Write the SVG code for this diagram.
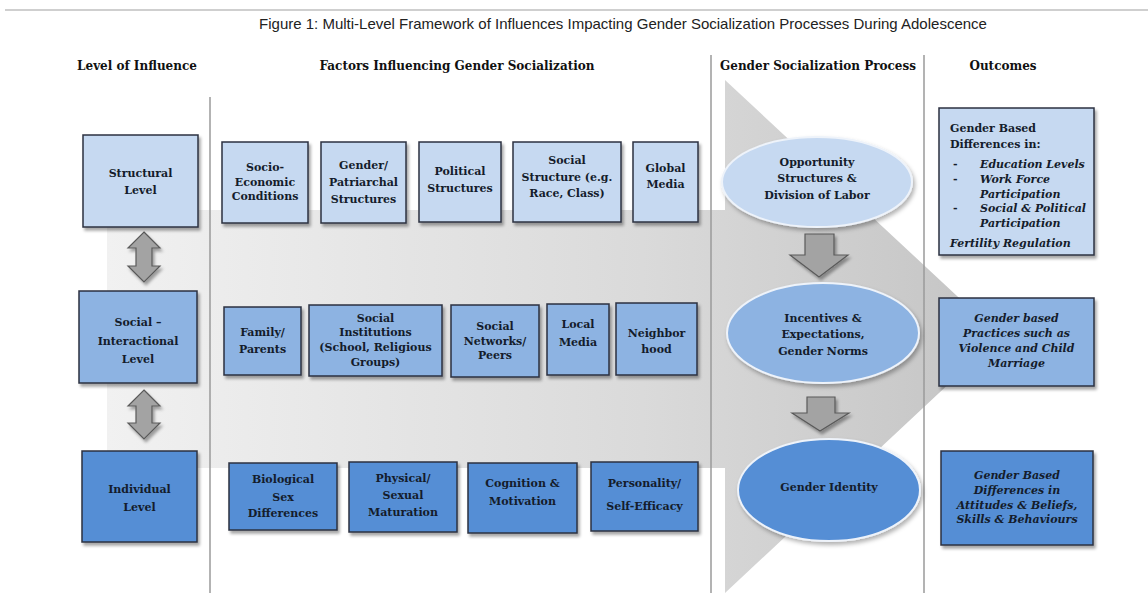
<svg xmlns="http://www.w3.org/2000/svg" width="1148" height="593" viewBox="0 0 1148 593">
<defs>
<linearGradient id="bigGrad" x1="107" y1="0" x2="1000" y2="0" gradientUnits="userSpaceOnUse">
<stop offset="0" stop-color="#f1f1f1"/>
<stop offset="0.6" stop-color="#dadada"/>
<stop offset="1" stop-color="#c4c4c4"/>
</linearGradient>
<filter id="sh" x="-10%" y="-10%" width="130%" height="130%">
<feDropShadow dx="2" dy="3" stdDeviation="1.5" flood-color="#000" flood-opacity="0.35"/>
</filter>
<filter id="shE" x="-10%" y="-10%" width="130%" height="130%">
<feDropShadow dx="2" dy="3" stdDeviation="2" flood-color="#000" flood-opacity="0.3"/>
</filter>
</defs>
<style>
.title{font-family:"Liberation Sans",Arial,sans-serif;font-size:15px;fill:#222;text-anchor:middle}
.hdr{font-family:"DejaVu Serif","Liberation Serif",serif;font-weight:bold;font-size:12px;fill:#111;text-anchor:middle}
.t{font-family:"DejaVu Serif","Liberation Serif",serif;font-weight:bold;font-size:11px;fill:#141c2b;text-anchor:middle}
.ti{font-family:"DejaVu Serif","Liberation Serif",serif;font-weight:bold;font-style:italic;font-size:11px;fill:#141c2b;text-anchor:middle}
.tl{font-family:"DejaVu Serif","Liberation Serif",serif;font-weight:bold;font-size:11px;fill:#141c2b}
.tli{font-family:"DejaVu Serif","Liberation Serif",serif;font-weight:bold;font-style:italic;font-size:11px;fill:#141c2b}
.b1{fill:#c6d9f1;stroke:#2b3140;stroke-width:1.5;filter:url(#sh)}
.b2{fill:#8db3e2;stroke:#2b3140;stroke-width:1.5;filter:url(#sh)}
.b3{fill:#558ed5;stroke:#2b3140;stroke-width:1.5;filter:url(#sh)}
.e1{fill:#c6d9f1;stroke:#eef3fa;stroke-width:2;filter:url(#shE)}
.e2{fill:#8db3e2;stroke:#eef3fa;stroke-width:2;filter:url(#shE)}
.e3{fill:#558ed5;stroke:#eef3fa;stroke-width:2;filter:url(#shE)}
.arr{fill:#a3a3a3;stroke:#5a5a5a;stroke-width:1.2;filter:url(#sh)}
.div{stroke:#9a9a9a;stroke-width:1.5;fill:none}
</style>
<rect width="1148" height="593" fill="#ffffff"/>
<line x1="5" y1="10" x2="1148" y2="10" stroke="#cfcfcf" stroke-width="2"/>
<text class="title" x="623" y="29">Figure 1: Multi-Level Framework of Influences Impacting Gender Socialization Processes During Adolescence</text>

<g id="background-arrow">
<path d="M107,210 H725 V80 L1000,336 L725,593 V468 H107 Z" fill="url(#bigGrad)"/>
</g>

<g id="dividers">
<line class="div" x1="210" y1="97" x2="210" y2="593"/>
<line class="div" x1="711" y1="55" x2="711" y2="593"/>
<line class="div" x1="924" y1="55" x2="924" y2="593"/>
</g>

<g id="headers">
<text class="hdr" x="137" y="70">Level of Influence</text>
<text class="hdr" x="457" y="70">Factors Influencing Gender Socialization</text>
<text class="hdr" x="818" y="70">Gender Socialization Process</text>
<text class="hdr" x="1003" y="70">Outcomes</text>
</g>

<g id="connectors">
<path class="arr" d="M144,232 L160,248 H152 V266 H160 L144,282 L128,266 H136 V248 H128 Z"/>
<path class="arr" d="M144,390 L160,406 H152 V423 H160 L144,439 L128,423 H136 V406 H128 Z"/>
<path class="arr" d="M805,234 H834 V255 H848 L819,277 L790,255 H805 Z"/>
<path class="arr" d="M807,397 H835 V413 H849 L820,431 L792,413 H807 Z"/>
</g>

<g id="structural-level">
<rect class="b1" x="83" y="135" width="115" height="92"/>
<text class="t" x="140.5" y="177">Structural</text>
<text class="t" x="140.5" y="194">Level</text>
</g>
<g id="social-interactional-level">
<rect class="b2" x="79" y="291" width="118" height="92"/>
<text class="t" x="138" y="326">Social –</text>
<text class="t" x="138" y="345">Interactional</text>
<text class="t" x="138" y="363">Level</text>
</g>
<g id="individual-level">
<rect class="b3" x="82" y="451" width="115" height="91"/>
<text class="t" x="139.5" y="493">Individual</text>
<text class="t" x="139.5" y="511">Level</text>
</g>

<g id="socio-economic">
<rect class="b1" x="222" y="142" width="86" height="81"/>
<text class="t" x="265" y="171">Socio-</text>
<text class="t" x="265" y="186">Economic</text>
<text class="t" x="265" y="200">Conditions</text>
</g>
<g id="gender-patriarchal">
<rect class="b1" x="321" y="142" width="85" height="81"/>
<text class="t" x="363.5" y="169">Gender/</text>
<text class="t" x="363.5" y="186">Patriarchal</text>
<text class="t" x="363.5" y="203">Structures</text>
</g>
<g id="political-structures">
<rect class="b1" x="419" y="142" width="82" height="80"/>
<text class="t" x="460" y="175">Political</text>
<text class="t" x="460" y="192">Structures</text>
</g>
<g id="social-structure">
<rect class="b1" x="513" y="142" width="108" height="80"/>
<text class="t" x="567" y="164">Social</text>
<text class="t" x="567" y="181">Structure (e.g.</text>
<text class="t" x="567" y="197">Race, Class)</text>
</g>
<g id="global-media">
<rect class="b1" x="633" y="142" width="65" height="80"/>
<text class="t" x="665.5" y="172">Global</text>
<text class="t" x="665.5" y="188">Media</text>
</g>

<g id="family-parents">
<rect class="b2" x="224" y="307" width="77" height="68"/>
<text class="t" x="262.5" y="336">Family/</text>
<text class="t" x="262.5" y="353">Parents</text>
</g>
<g id="social-institutions">
<rect class="b2" x="309" y="305" width="133" height="71"/>
<text class="t" x="375.5" y="322">Social</text>
<text class="t" x="375.5" y="336">Institutions</text>
<text class="t" x="375.5" y="351">(School, Religious</text>
<text class="t" x="375.5" y="366">Groups)</text>
</g>
<g id="social-networks">
<rect class="b2" x="451" y="305" width="88" height="72"/>
<text class="t" x="495" y="330">Social</text>
<text class="t" x="495" y="345">Networks/</text>
<text class="t" x="495" y="359">Peers</text>
</g>
<g id="local-media">
<rect class="b2" x="547" y="304" width="62" height="71"/>
<text class="t" x="578" y="328">Local</text>
<text class="t" x="578" y="346">Media</text>
</g>
<g id="neighborhood">
<rect class="b2" x="616" y="303" width="81" height="72"/>
<text class="t" x="656.5" y="337">Neighbor</text>
<text class="t" x="656.5" y="353">hood</text>
</g>

<g id="biological-sex">
<rect class="b3" x="229" y="463" width="108" height="67"/>
<text class="t" x="283" y="483">Biological</text>
<text class="t" x="283" y="501">Sex</text>
<text class="t" x="283" y="517">Differences</text>
</g>
<g id="physical-sexual">
<rect class="b3" x="349" y="462" width="108" height="70"/>
<text class="t" x="403" y="482">Physical/</text>
<text class="t" x="403" y="499">Sexual</text>
<text class="t" x="403" y="516">Maturation</text>
</g>
<g id="cognition-motivation">
<rect class="b3" x="468" y="463" width="109" height="70"/>
<text class="t" x="522.5" y="487">Cognition &amp;</text>
<text class="t" x="522.5" y="505">Motivation</text>
</g>
<g id="personality">
<rect class="b3" x="591" y="462" width="107" height="69"/>
<text class="t" x="644.5" y="487">Personality/</text>
<text class="t" x="644.5" y="510">Self-Efficacy</text>
</g>

<g id="opportunity-structures">
<ellipse class="e1" cx="817" cy="182" rx="95" ry="45"/>
<text class="t" x="817" y="166">Opportunity</text>
<text class="t" x="817" y="182">Structures &amp;</text>
<text class="t" x="817" y="199">Division of Labor</text>
</g>
<g id="incentives-expectations">
<ellipse class="e2" cx="823" cy="333" rx="96" ry="50"/>
<text class="t" x="823" y="322">Incentives &amp;</text>
<text class="t" x="823" y="338">Expectations,</text>
<text class="t" x="823" y="355">Gender Norms</text>
</g>
<g id="gender-identity">
<ellipse class="e3" cx="829" cy="490" rx="91" ry="51"/>
<text class="t" x="829" y="491">Gender Identity</text>
</g>

<g id="outcome-differences">
<rect class="b1" x="939" y="108" width="155" height="147"/>
<text class="tl" x="950" y="132">Gender Based</text>
<text class="tl" x="950" y="148">Differences in:</text>
<text class="tl" x="953" y="168">-</text>
<text class="tli" x="980" y="168">Education Levels</text>
<text class="tl" x="953" y="183">-</text>
<text class="tli" x="980" y="183">Work Force</text>
<text class="tli" x="980" y="198">Participation</text>
<text class="tl" x="953" y="212">-</text>
<text class="tli" x="980" y="212">Social &amp; Political</text>
<text class="tli" x="980" y="227">Participation</text>
<text class="tli" x="950" y="247">Fertility Regulation</text>
</g>
<g id="outcome-practices">
<rect class="b2" x="939" y="298" width="155" height="88"/>
<text class="ti" x="1016.5" y="322">Gender based</text>
<text class="ti" x="1016.5" y="337">Practices such as</text>
<text class="ti" x="1016.5" y="352">Violence and Child</text>
<text class="ti" x="1016.5" y="367">Marriage</text>
</g>
<g id="outcome-attitudes">
<rect class="b3" x="941" y="451" width="152" height="94"/>
<text class="ti" x="1017" y="479">Gender Based</text>
<text class="ti" x="1017" y="494">Differences in</text>
<text class="ti" x="1017" y="509">Attitudes &amp; Beliefs,</text>
<text class="ti" x="1017" y="523">Skills &amp; Behaviours</text>
</g>
</svg>
